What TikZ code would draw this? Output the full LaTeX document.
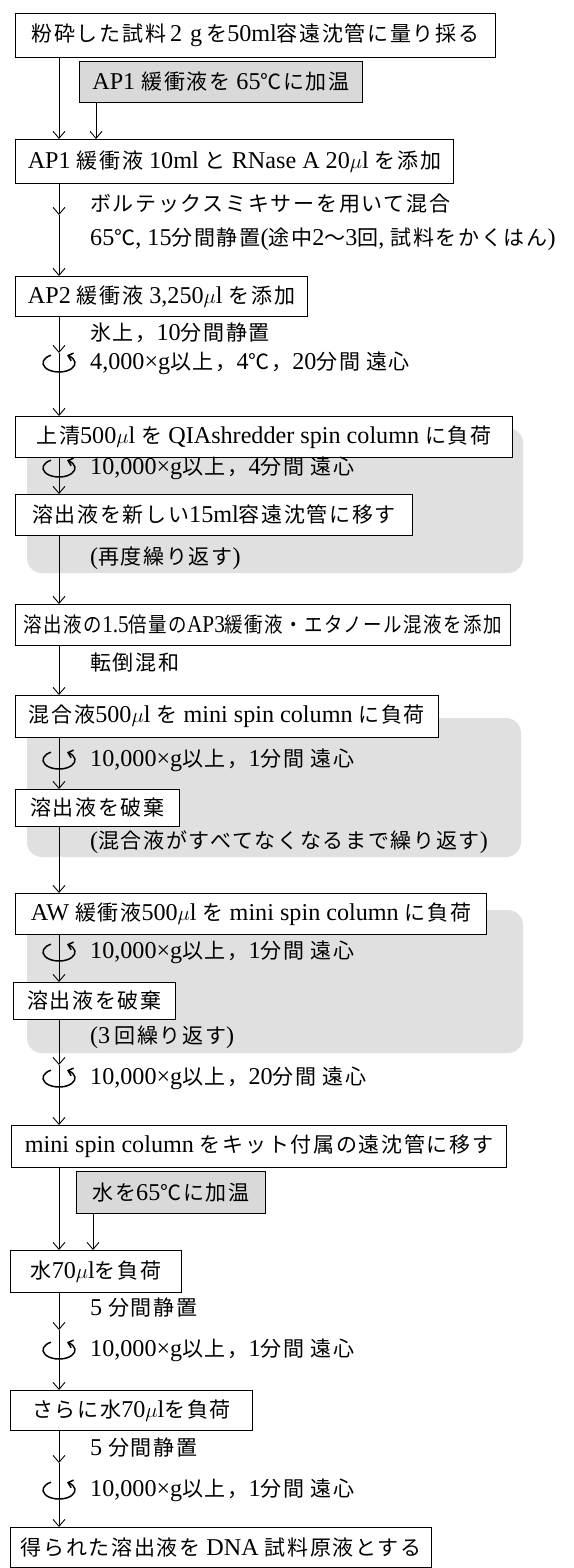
\documentclass[tikz,border=0pt]{standalone}
\usepackage{fontspec}
\usepackage{graphicx}
\setmainfont{Liberation Serif}[Scale=1.15]
\newfontfamily\jpfont{Noto Sans CJK JP}[LetterSpace=8]
\newcommand{\J}[1]{{\jpfont #1}}
\usetikzlibrary{arrows.meta}
\begin{document}
\begin{tikzpicture}[x=1pt,y=-1pt,
  font=\fontsize{21}{24}\selectfont,
  box/.style={draw, line width=1pt, fill=white, inner sep=0pt, anchor=north west},
  shadebox/.style={draw, line width=1pt, fill=black!15, inner sep=0pt, anchor=north west},
  region/.style={fill=black!12, rounded corners=15pt},
  side/.style={anchor=west, inner sep=0pt},
  arr/.style={-{Straight Barb[length=7pt,width=12pt]}, line width=0.9pt},
  spin/.style={-{Straight Barb[length=4.5pt,width=8pt]}, line width=1.5pt}]
\useasboundingbox (0,0) rectangle (573,1568);
\coordinate (xl) at (59,0);
\coordinate (xa) at (96,0);
\coordinate (xb) at (93,0);
% shaded background regions
\fill[region] (27,428) rectangle (523,573);
\fill[region] (27,718) rectangle (521,857);
\fill[region] (27,910) rectangle (523,1053);
% boxes
\node[box, minimum width=480pt, minimum height=44pt] (b1) at (15,13) {\J{粉砕した試料}\,2\,\,g\,\J{を}50ml\J{容遠沈管に量り採る}};
\node[shadebox, minimum width=283pt, minimum height=41pt] (sA) at (79,61) {AP1 \J{緩衝液を} 65\J{℃に加温}};
\node[box, minimum width=438pt, minimum height=44pt] (b2) at (15,139) {AP1 \J{緩衝液} 10ml \J{と} RNase A 20$\mu$l \J{を添加}};
\node[box, minimum width=292pt, minimum height=40pt] (b3) at (15,276) {AP2 \J{緩衝液} 3,250$\mu$l \J{を添加}};
\node[box, minimum width=497pt, minimum height=41pt] (b4) at (15,416) {\J{上清}500$\mu$l \J{を} QIAshredder spin column \J{に負荷}};
\node[box, minimum width=397pt, minimum height=41pt] (b5) at (15,494) {\J{溶出液を新しい}15ml\J{容遠沈管に移す}};
\node[box, minimum width=495pt, minimum height=41pt] (b6) at (15,604) {\resizebox{478pt}{\height}{\J{溶出液の}1.5\J{倍量の}AP3\J{緩衝液・エタノール混液を添加}}};
\node[box, minimum width=423pt, minimum height=42pt] (b7) at (15,695) {\J{混合液}500$\mu$l \J{を} mini spin column \J{に負荷}};
\node[box, minimum width=164pt, minimum height=37pt] (b8) at (15,789) {\J{溶出液を破棄}};
\node[box, minimum width=471pt, minimum height=41pt] (b9) at (15,893) {AW \J{緩衝液}500$\mu$l \J{を} mini spin column \J{に負荷}};
\node[box, minimum width=162pt, minimum height=37pt] (b10) at (13,982) {\J{溶出液を破棄}};
\node[box, minimum width=495pt, minimum height=42pt] (b11) at (11,1125) {mini spin column \J{をキット付属の遠沈管に移す}};
\node[shadebox, minimum width=189pt, minimum height=42pt] (sB) at (76,1171) {\J{水を}65\J{℃に加温}};
\node[box, minimum width=171pt, minimum height=42pt] (b12) at (10,1250) {\J{水}70$\mu$l\J{を負荷}};
\node[box, minimum width=242pt, minimum height=40pt] (b13) at (10,1390) {\J{さらに水}70$\mu$l\J{を負荷}};
\node[box, minimum width=421pt, minimum height=40pt] (b14) at (10,1527) {\J{得られた溶出液を} DNA \J{試料原液とする}};
% side texts
\node[side] (t1) at (90,204) {\J{ボルテックスミキサーを用いて混合}};
\node[side] (t2) at (90,239) {65\J{℃}, 15\J{分間静置}(\J{途中}2\J{～}3\J{回}, \J{試料をかくはん})};
\node[side] (t3) at (90,333) {\J{氷上，}10\J{分間静置}};
\node[side] (t4) at (90,363) {4,000×g\J{以上，}4\J{℃，}20\J{分間} \J{遠心}};
\node[side] (t5) at (90,468) {10,000×g\J{以上，}4\J{分間} \J{遠心}};
\node[side] (t6) at (90,558) {(\J{再度繰り返す})};
\node[side] (t7) at (90,663) {\J{転倒混和}};
\node[side] (t8) at (90,760) {10,000×g\J{以上，}1\J{分間} \J{遠心}};
\node[side] (t9) at (90,842) {(\J{混合液がすべてなくなるまで繰り返す})};
\node[side] (t10) at (90,952) {10,000×g\J{以上，}1\J{分間} \J{遠心}};
\node[side] (t11) at (90,1037) {(3\,\J{回繰り返す})};
\node[side] (t12) at (90,1078) {10,000×g\J{以上，}20\J{分間} \J{遠心}};
\node[side] (t13) at (90,1308) {5 \J{分間静置}};
\node[side] (t14) at (90,1350) {10,000×g\J{以上，}1\J{分間} \J{遠心}};
\node[side] (t15) at (90,1448) {5 \J{分間静置}};
\node[side] (t16) at (90,1490) {10,000×g\J{以上，}1\J{分間} \J{遠心}};
% mid-line points and centrifuge centres
\coordinate (m1) at (59,215);
\coordinate (m2) at (59,353);
\coordinate (m3) at (59,1065);
\coordinate (m4) at (59,1330);
\coordinate (m5) at (59,1463);
\coordinate (c1) at (59,363);
\coordinate (c2) at (59,468);
\coordinate (c3) at (59,760);
\coordinate (c4) at (59,952);
\coordinate (c5) at (59,1078);
\coordinate (c6) at (59,1350);
\coordinate (c7) at (59,1490);
% connectors
\draw[arr] (b1.south -| xl) -- (b2.north -| xl);
\draw[arr] (sA.south -| xa) -- (b2.north -| xa);
\draw[arr] (b2.south -| xl) -- (m1);
\draw[arr] (m1) -- (b3.north -| xl);
\draw[arr] (b3.south -| xl) -- (m2);
\draw[arr] (m2) -- (b4.north -| xl);
\draw[arr] (b4.south -| xl) -- (b5.north -| xl);
\draw[arr] (b5.south -| xl) -- (b6.north -| xl);
\draw[arr] (b6.south -| xl) -- (b7.north -| xl);
\draw[arr] (b7.south -| xl) -- (b8.north -| xl);
\draw[arr] (b8.south -| xl) -- (b9.north -| xl);
\draw[arr] (b9.south -| xl) -- (b10.north -| xl);
\draw[arr] (b10.south -| xl) -- (m3);
\draw[arr] (m3) -- (b11.north -| xl);
\draw[arr] (b11.south -| xl) -- (b12.north -| xl);
\draw[arr] (sB.south -| xb) -- (b12.north -| xb);
\draw[arr] (b12.south -| xl) -- (m4);
\draw[arr] (m4) -- (b13.north -| xl);
\draw[arr] (b13.south -| xl) -- (m5);
\draw[arr] (m5) -- (b14.north -| xl);
% centrifuge symbols
\foreach \c in {c1,c2,c3,c4,c5,c6,c7}{
  \draw[spin] (\c) ++(120:16pt and 9pt) arc[start angle=120, end angle=420, x radius=16pt, y radius=9pt];
}
\end{tikzpicture}
\end{document}
